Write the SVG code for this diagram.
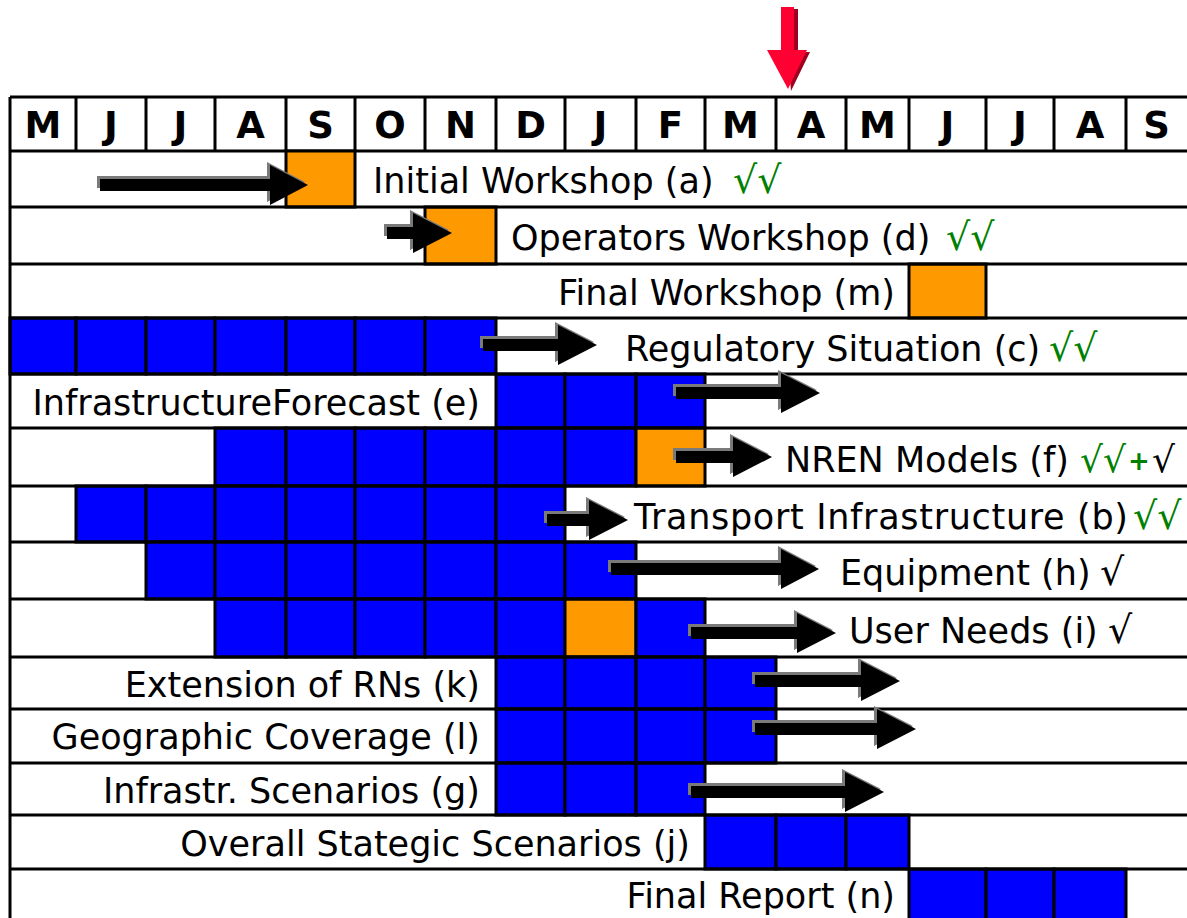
<svg xmlns="http://www.w3.org/2000/svg" width="1187" height="918" viewBox="0 0 1187 918">
<style>
.bg{fill:#fff}
.ln{stroke:#000;stroke-width:3;fill:none}
.b{fill:#0000FF;stroke:#000;stroke-width:3}
.o{fill:#FF9900;stroke:#000;stroke-width:3}
.hdr{font-family:"DejaVu Sans",Verdana,sans-serif;font-weight:bold;font-size:37px;text-anchor:middle;fill:#000}
.lbl{font-family:"DejaVu Sans",Verdana,sans-serif;font-size:35px;fill:#000}
.end{text-anchor:end}
.chk{font-family:"DejaVu Sans",Verdana,sans-serif;font-size:38px;fill:#000}
.sm{font-size:36px}
.ok{fill:#008000}
.pl{fill:#008000;font-weight:bold;font-size:26px}
.ag{fill:#7a7a7a}
.ak{fill:#000}
</style>
<rect class="bg" x="0" y="0" width="1187" height="918"/>

<g id="header">
<line class="ln" x1="10" y1="97" x2="1187" y2="97"/>
<line class="ln" x1="10" y1="151" x2="1187" y2="151"/>
<path class="ln" d="M76 97V151M146 97V151M215 97V151M286 97V151M355 97V151M425 97V151M496 97V151M565 97V151M636 97V151M705 97V151M776 97V151M846 97V151M909 97V151M986 97V151M1054 97V151M1126 97V151"/>
<text class="hdr" x="43" y="138">M</text>
<text class="hdr" x="111" y="138">J</text>
<text class="hdr" x="180.5" y="138">J</text>
<text class="hdr" x="250.5" y="138">A</text>
<text class="hdr" x="320.5" y="138">S</text>
<text class="hdr" x="390" y="138">O</text>
<text class="hdr" x="460.5" y="138">N</text>
<text class="hdr" x="530.5" y="138">D</text>
<text class="hdr" x="600.5" y="138">J</text>
<text class="hdr" x="670.5" y="138">F</text>
<text class="hdr" x="740.5" y="138">M</text>
<text class="hdr" x="811" y="138">A</text>
<text class="hdr" x="877.5" y="138">M</text>
<text class="hdr" x="947.5" y="138">J</text>
<text class="hdr" x="1020" y="138">J</text>
<text class="hdr" x="1090" y="138">A</text>
<text class="hdr" x="1156.5" y="138">S</text>
</g>

<g id="row-a">
<rect class="o" x="286" y="151" width="69" height="56"/>
<text class="lbl" x="373" y="193">Initial Workshop (a)</text>
<text class="chk ok" x="733" y="193">√√</text>
</g>

<g id="row-d">
<rect class="o" x="425" y="207" width="71" height="57"/>
<text class="lbl" x="511" y="250">Operators Workshop (d)</text>
<text class="chk ok" x="946" y="250">√√</text>
</g>

<g id="row-m">
<rect class="o" x="909" y="264" width="77" height="54"/>
<text class="lbl end" x="895" y="305">Final Workshop (m)</text>
</g>

<g id="row-c">
<rect class="b" x="10" y="318" width="66" height="56"/>
<rect class="b" x="76" y="318" width="70" height="56"/>
<rect class="b" x="146" y="318" width="69" height="56"/>
<rect class="b" x="215" y="318" width="71" height="56"/>
<rect class="b" x="286" y="318" width="69" height="56"/>
<rect class="b" x="355" y="318" width="70" height="56"/>
<rect class="b" x="425" y="318" width="71" height="56"/>
<text class="lbl" x="625" y="361">Regulatory Situation (c)</text>
<text class="chk ok" x="1049" y="361">√√</text>
</g>

<g id="row-e">
<rect class="b" x="496" y="374" width="69" height="54"/>
<rect class="b" x="565" y="374" width="71" height="54"/>
<rect class="b" x="636" y="374" width="69" height="54"/>
<text class="lbl end" x="480" y="415">InfrastructureForecast (e)</text>
</g>

<g id="row-f">
<rect class="b" x="215" y="428" width="71" height="58"/>
<rect class="b" x="286" y="428" width="69" height="58"/>
<rect class="b" x="355" y="428" width="70" height="58"/>
<rect class="b" x="425" y="428" width="71" height="58"/>
<rect class="b" x="496" y="428" width="69" height="58"/>
<rect class="b" x="565" y="428" width="71" height="58"/>
<rect class="o" x="636" y="428" width="69" height="58"/>
<text class="lbl" x="785" y="472">NREN Models (f)</text>
<text class="chk sm ok" x="1080" y="472">√√</text>
<text class="chk pl" x="1128" y="470">+</text>
<text class="chk sm" x="1152" y="472">√</text>
</g>

<g id="row-b">
<rect class="b" x="76" y="486" width="70" height="56"/>
<rect class="b" x="146" y="486" width="69" height="56"/>
<rect class="b" x="215" y="486" width="71" height="56"/>
<rect class="b" x="286" y="486" width="69" height="56"/>
<rect class="b" x="355" y="486" width="70" height="56"/>
<rect class="b" x="425" y="486" width="71" height="56"/>
<rect class="b" x="496" y="486" width="69" height="56"/>
<text class="lbl" x="634" y="529" textLength="494">Transport Infrastructure (b)</text>
<text class="chk ok" x="1133" y="529">√√</text>
</g>

<g id="row-h">
<rect class="b" x="146" y="542" width="69" height="57"/>
<rect class="b" x="215" y="542" width="71" height="57"/>
<rect class="b" x="286" y="542" width="69" height="57"/>
<rect class="b" x="355" y="542" width="70" height="57"/>
<rect class="b" x="425" y="542" width="71" height="57"/>
<rect class="b" x="496" y="542" width="69" height="57"/>
<rect class="b" x="565" y="542" width="71" height="57"/>
<text class="lbl" x="840" y="585">Equipment (h)</text>
<text class="chk" x="1100" y="585">√</text>
</g>

<g id="row-i">
<rect class="b" x="215" y="599" width="71" height="58"/>
<rect class="b" x="286" y="599" width="69" height="58"/>
<rect class="b" x="355" y="599" width="70" height="58"/>
<rect class="b" x="425" y="599" width="71" height="58"/>
<rect class="b" x="496" y="599" width="69" height="58"/>
<rect class="o" x="565" y="599" width="71" height="58"/>
<rect class="b" x="636" y="599" width="69" height="58"/>
<text class="lbl" x="849" y="643">User Needs (i)</text>
<text class="chk" x="1108" y="643">√</text>
</g>

<g id="row-k">
<rect class="b" x="496" y="657" width="69" height="52"/>
<rect class="b" x="565" y="657" width="71" height="52"/>
<rect class="b" x="636" y="657" width="69" height="52"/>
<rect class="b" x="705" y="657" width="71" height="52"/>
<text class="lbl end" x="480" y="697">Extension of RNs (k)</text>
</g>

<g id="row-l">
<rect class="b" x="496" y="709" width="69" height="54"/>
<rect class="b" x="565" y="709" width="71" height="54"/>
<rect class="b" x="636" y="709" width="69" height="54"/>
<rect class="b" x="705" y="709" width="71" height="54"/>
<text class="lbl end" x="480" y="749">Geographic Coverage (l)</text>
</g>

<g id="row-g">
<rect class="b" x="496" y="763" width="69" height="52"/>
<rect class="b" x="565" y="763" width="71" height="52"/>
<rect class="b" x="636" y="763" width="69" height="52"/>
<text class="lbl end" x="480" y="803">Infrastr. Scenarios (g)</text>
</g>

<g id="row-j">
<rect class="b" x="705" y="815" width="71" height="54"/>
<rect class="b" x="776" y="815" width="70" height="54"/>
<rect class="b" x="846" y="815" width="63" height="54"/>
<text class="lbl end" x="690" y="856">Overall Stategic Scenarios (j)</text>
</g>

<g id="row-n">
<rect class="b" x="909" y="869" width="77" height="55"/>
<rect class="b" x="986" y="869" width="68" height="55"/>
<rect class="b" x="1054" y="869" width="72" height="55"/>
<text class="lbl end" x="895" y="908">Final Report (n)</text>
</g>

<g id="grid">
<path class="ln" d="M10 97V918M10 207H1187M10 264H1187M10 318H1187M10 374H1187M10 428H1187M10 486H1187M10 542H1187M10 599H1187M10 657H1187M10 709H1187M10 763H1187M10 815H1187M10 869H1187"/>
</g>

<g id="marker-now">
<polygon fill="#9e0020" points="784,9 798,9 798,52 810,52 791,91"/>
<polygon fill="#ff0033" points="781,7 794,7 794,50 807,50 788,89 767,50 781,50"/>
</g>

<g id="connectors">
<polygon class="ag" points="97,176 267,176 267,162 305,182 267,202 267,188 97,188"/>
<polygon class="ak" points="100,179 270,179 270,165 308,185 270,205 270,191 100,191"/>
<polygon class="ag" points="384,224 410,224 410,210 449,230 410,250 410,236 384,236"/>
<polygon class="ak" points="387,227 413,227 413,213 452,233 413,253 413,239 387,239"/>
<polygon class="ag" points="480,336 555,336 555,322 594,342 555,362 555,348 480,348"/>
<polygon class="ak" points="483,339 558,339 558,325 597,345 558,365 558,351 483,351"/>
<polygon class="ag" points="673,384 778,384 778,370 817,390 778,410 778,396 673,396"/>
<polygon class="ak" points="676,387 781,387 781,373 820,393 781,413 781,399 676,399"/>
<polygon class="ag" points="673,448 730,448 730,434 769,454 730,474 730,460 673,460"/>
<polygon class="ak" points="676,451 733,451 733,437 772,457 733,477 733,463 676,463"/>
<polygon class="ag" points="544,511 586,511 586,497 625,517 586,537 586,523 544,523"/>
<polygon class="ak" points="547,514 589,514 589,500 628,520 589,540 589,526 547,526"/>
<polygon class="ag" points="608,560 778,560 778,546 816,566 778,586 778,572 608,572"/>
<polygon class="ak" points="611,563 781,563 781,549 819,569 781,589 781,575 611,575"/>
<polygon class="ag" points="688,624 794,624 794,610 833,630 794,650 794,636 688,636"/>
<polygon class="ak" points="691,627 797,627 797,613 836,633 797,653 797,639 691,639"/>
<polygon class="ag" points="752,672 858,672 858,658 897,678 858,698 858,684 752,684"/>
<polygon class="ak" points="755,675 861,675 861,661 900,681 861,701 861,687 755,687"/>
<polygon class="ag" points="752,720 874,720 874,706 913,726 874,746 874,732 752,732"/>
<polygon class="ak" points="755,723 877,723 877,709 916,729 877,749 877,735 755,735"/>
<polygon class="ag" points="688,783 842,783 842,769 881,789 842,809 842,795 688,795"/>
<polygon class="ak" points="691,786 845,786 845,772 884,792 845,812 845,798 691,798"/>
</g>
</svg>
